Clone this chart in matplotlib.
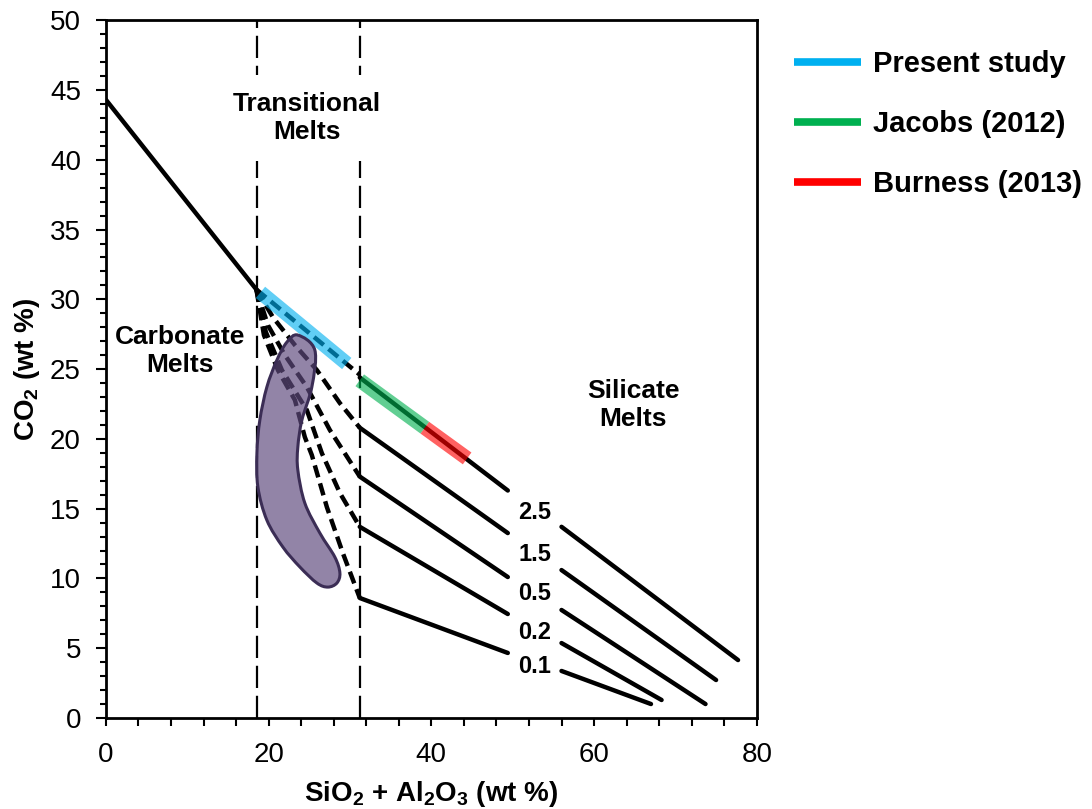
"""CO2 vs SiO2 + Al2O3 of carbonate, transitional and silicate melts."""
import numpy as np
import matplotlib
matplotlib.use('Agg')
from matplotlib import pyplot as plt
from matplotlib.lines import Line2D
from matplotlib.patches import PathPatch
from matplotlib.path import Path

plt.rcParams['font.family'] = 'Liberation Sans'
plt.rcParams['mathtext.fontset'] = 'custom'
plt.rcParams['mathtext.rm'] = 'Liberation Sans:bold'
plt.rcParams['mathtext.default'] = 'rm'

# carbonate melt trend down to the kink
carb_x = [0, 18.5]
carb_y = [44.3, 30.7]

# field boundaries (SiO2 + Al2O3)
boundaries = [18.56, 31.2]

# trajectories through the transitional field (dashed)
traj_labels = ['2.5', '1.5', '0.5', '0.2', '0.1']
dash_x = [
    [18.5, 31.2],
    [18.5, 20.52, 23.23, 25.93, 28.76, 31.2],
    [18.5, 19.91, 22.0, 24.7, 27.53, 31.2],
    [18.5, 19.66, 21.63, 24.7, 26.54, 28.76, 31.2],
    [18.5, 19.42, 21.14, 23.23, 24.45, 25.31, 27.16, 29.12, 31.2],
]
dash_y = [
    [30.7, 24.6],
    [30.7, 28.72, 26.72, 24.93, 22.56, 20.8],
    [30.7, 28.15, 26.0, 23.71, 20.63, 17.3],
    [30.7, 27.65, 24.93, 22.06, 18.98, 16.12, 13.7],
    [30.7, 27.44, 24.93, 22.78, 20.13, 18.84, 15.11, 11.82, 8.6],
]

# silicate melt trajectories (solid), broken where the labels sit
solid_x = [
    [31.2, 49.4, np.nan, 56.0, 77.7],
    [31.2, 49.4, np.nan, 56.0, 75.0],
    [31.2, 49.4, np.nan, 56.0, 73.7],
    [31.2, 49.4, np.nan, 56.0, 68.3],
    [31.2, 49.4, np.nan, 56.0, 67.0],
]
solid_y = [
    [24.4, 16.3, np.nan, 13.7, 4.15],
    [20.8, 13.25, np.nan, 10.6, 2.72],
    [17.3, 10.1, np.nan, 7.74, 1.0],
    [13.7, 7.45, np.nan, 5.37, 1.29],
    [8.6, 4.66, np.nan, 3.37, 1.0],
]
label_x = 52.7
label_y = [14.75, 11.68, 8.95, 6.16, 3.72]

# composition ranges of the studies
study_names = ['Present study', 'Jacobs (2012)', 'Burness (2013)']
study_colors = ['#00B0F0', '#00B050', '#FF0000']
study_x = [[19.0, 29.6], [31.2, 39.2], [39.2, 44.4]]
study_y = [[30.5, 25.4], [24.2, 20.8], [20.8, 18.6]]

# outline of the natural carbonatite field
field_x = [23.59, 25.68, 25.31, 24.09, 23.59, 23.59, 24.45, 26.3, 28.14,
           28.76, 28.39, 27.28, 25.93, 23.84, 21.75, 19.78, 18.68, 18.56,
           18.92, 19.78, 21.01, 22.24]
field_y = [27.44, 26.36, 23.71, 21.35, 19.41, 17.77, 15.4, 13.25, 11.53,
           10.39, 9.67, 9.38, 9.67, 10.82, 12.25, 14.18, 16.55, 18.98,
           21.35, 23.71, 25.64, 26.93]


def smooth_closed_path(xs, ys):
    """Closed Bezier path through the outline points (Catmull-Rom)."""
    p = np.column_stack([xs, ys])
    n = len(p)
    verts = [p[0]]
    codes = [Path.MOVETO]
    for i in range(n):
        p0, p1, p2, p3 = p[i - 1], p[i], p[(i + 1) % n], p[(i + 2) % n]
        verts += [p1 + (p2 - p0) / 6, p2 - (p3 - p1) / 6, p2]
        codes += [Path.CURVE4] * 3
    return Path(verts, codes)


def plot():
    fig = plt.figure(figsize=(10.92, 8.09), dpi=100)
    ax = fig.add_axes([0.097, 0.1125, 0.596, 0.8625])

    for b in boundaries:
        ax.axvline(b, color='black', lw=1.6, dashes=(10, 3.5), zorder=1)

    ax.plot(carb_x, carb_y, color='black', lw=3.2, solid_capstyle='round',
            zorder=2)
    for xs, ys in zip(dash_x, dash_y):
        ax.plot(xs, ys, color='black', lw=3.2, dashes=(2.8, 1.4),
                dash_capstyle='butt', zorder=2)
    for xs, ys in zip(solid_x, solid_y):
        ax.plot(xs, ys, color='black', lw=3.2, solid_capstyle='round',
                zorder=2)

    for xs, ys, c in zip(study_x, study_y, study_colors):
        ax.plot(xs, ys, color=c, lw=10.5, alpha=0.62, solid_capstyle='butt',
                zorder=3)

    outline = smooth_closed_path(field_x, field_y)
    ax.add_patch(PathPatch(outline, facecolor='#5F4A7E', edgecolor='none',
                           alpha=0.68, zorder=4))
    ax.add_patch(PathPatch(outline, fill=False, edgecolor='#3B2D55', lw=2.2,
                           zorder=4))

    for lab, ly in zip(traj_labels, label_y):
        ax.text(label_x, ly, lab, ha='center', va='center', fontsize=17,
                fontweight='bold', zorder=5)

    ax.text(24.7, 43.0, 'Transitional\nMelts', ha='center', va='center',
            fontsize=19, fontweight='bold', linespacing=1.2, zorder=5,
            bbox=dict(boxstyle='square,pad=0.65', fc='white', ec='none'))
    ax.text(9.1, 26.3, 'Carbonate\nMelts', ha='center', va='center',
            fontsize=19, fontweight='bold', linespacing=1.2, zorder=5)
    ax.text(64.8, 22.4, 'Silicate\nMelts', ha='center', va='center',
            fontsize=19, fontweight='bold', linespacing=1.2, zorder=5)

    ax.set_xlim(0, 80)
    ax.set_ylim(0, 50)
    ax.set_xticks([0, 20, 40, 60, 80])
    ax.set_xticks(np.arange(0, 81, 4), minor=True)
    ax.set_yticks(np.arange(0, 51, 5))
    ax.set_yticks(np.arange(0, 51, 1), minor=True)
    ax.tick_params(axis='both', which='both', direction='out', width=1.5,
                   labelsize=20, top=False, right=False)
    ax.tick_params(axis='x', which='both', length=6, pad=11)
    ax.tick_params(axis='y', which='major', length=7, pad=11)
    ax.tick_params(axis='y', which='minor', length=4.5)
    for s in ax.spines.values():
        s.set_linewidth(2)

    ax.set_xlabel('SiO$_2$ + Al$_2$O$_3$ (wt %)', fontsize=20,
                  fontweight='bold')
    ax.set_ylabel('CO$_2$ (wt %)', fontsize=20, fontweight='bold')
    ax.xaxis.set_label_coords(0.5, -0.088)
    ax.yaxis.set_label_coords(-0.098, 0.5)

    handles = [Line2D([], [], color=c, lw=5.5, solid_capstyle='butt')
               for c in study_colors]
    fig.legend(handles, study_names, loc='upper left',
               bbox_to_anchor=(0.727, 0.938), frameon=False, borderpad=0,
               borderaxespad=0, handlelength=2.3, handletextpad=0.4,
               labelspacing=1.1,
               prop={'size': 21, 'weight': 'bold'})

    fig.savefig('out.png', dpi=100)


if __name__ == '__main__':
    plot()
